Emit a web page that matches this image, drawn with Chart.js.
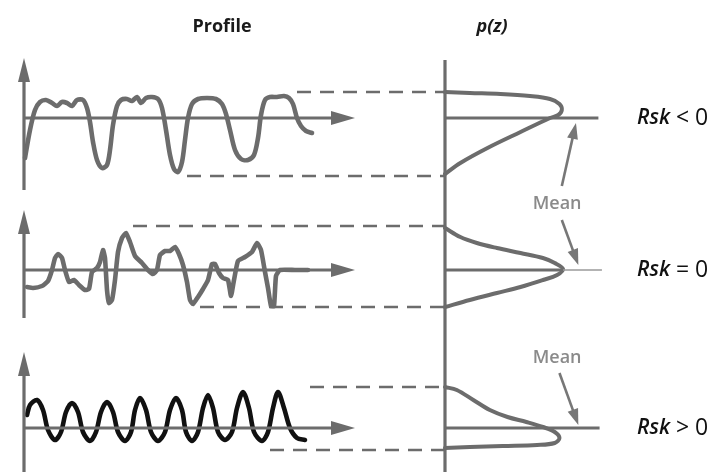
<!DOCTYPE html>
<html>
<head>
<meta charset="utf-8">
<script src="https://cdn.jsdelivr.net/npm/chart.js@4.4.1/dist/chart.umd.min.js"></script>
<style>
  html, body { margin: 0; padding: 0; background: #ffffff; }
  #wrap { position: relative; width: 722px; height: 472px; }
  canvas { display: block; }
</style>
</head>
<body>
<div id="wrap"><canvas id="skew" width="722" height="472"></canvas></div>
<script>
// ---- Surface profiles: distance along the trace (d) and height about the mean line (z) ----
const negProfileD = [0.2,0.7,1.2,1.7,2.3,2.9,3.4,3.9,4.4,4.9,5.4,6.0,6.4,6.7,7.0,7.4,7.9,8.4,8.7,9.0,
  9.4,9.8,10.4,10.9,11.4,11.8,12.3,12.9,13.5,13.9,14.3,14.7,15.1,15.5,15.9,16.2,16.5,16.9,17.5,18.4,
  19.3,19.9,20.3,20.7,21.2,21.8,22.5,23.1,23.5,23.8,24.2,24.7,25.4,26.1,26.6,27.0,27.4,27.8,28.3,28.9];
const negProfileZ = [-4.0,-1.2,0.8,1.6,1.8,1.5,1.2,1.6,1.5,1.2,1.8,1.8,1.0,-0.4,-2.4,-4.2,-5.0,-4.7,-3.2,-0.7,
  1.2,1.8,1.9,1.7,2.1,1.5,2.0,2.1,1.9,1.0,-1.2,-3.7,-5.1,-5.4,-4.4,-2.2,0,1.4,1.9,2.0,
  1.9,1.4,0.4,-1.2,-3.2,-4.1,-4.2,-3.7,-2.0,0.3,1.8,2.1,2.1,2.2,2.0,1.4,0,-0.8,-1.3,-1.5];

const zeroProfileD = [0.4,1.0,1.9,2.5,2.9,3.2,3.5,3.9,4.2,4.6,5.1,5.6,6.2,6.6,6.9,7.4,7.7,8.0,8.2,8.4,
  8.6,8.9,9.2,9.5,9.9,10.3,10.7,11.2,11.9,12.5,13.0,13.4,13.7,14.2,14.7,15.2,15.6,16.0,16.4,16.7,
  17.0,17.5,18.0,18.5,18.9,19.2,19.6,20.0,20.5,20.8,21.1,21.5,22.2,22.9,23.4,23.8,24.2,24.5,24.8,25.1,
  25.3,25.7,27.2,28.5];
const zeroProfileZ = [-1.7,-1.8,-1.6,-1.1,0,1.2,1.6,1.2,0,-1.2,-1.0,-1.5,-2.0,-1.9,-0.2,0.2,0.8,2.0,1.2,-2.0,
  -3.3,-3.0,-1.0,1.8,3.2,3.7,2.8,1.4,0.7,0,-0.4,0,1.5,1.9,1.9,2.3,1.6,0.5,-1.2,-3.0,
  -3.4,-2.7,-1.9,-1.0,0.6,0.6,-0.3,-0.8,-1.0,-2.6,-1.0,0.9,1.3,1.8,2.7,2.0,-0.2,-1.8,-3.6,-3.6,
  -0.6,0,0,0];

const posProfileD = [0.4,0.7,1.4,2.0,2.5,3.2,3.8,4.3,4.9,5.5,6.0,6.7,7.3,7.8,8.4,9.0,9.5,10.2,10.8,11.2,
  11.7,12.3,12.8,13.5,14.2,14.7,15.3,15.9,16.3,16.9,17.5,18.0,18.5,19.0,19.5,20.2,20.9,21.4,22.0,22.6,
  23.1,23.9,24.5,25.0,25.5,26.1,26.7,27.4,28.2];
const posProfileZ = [1.3,2.3,2.8,1.8,-0.2,-1.2,-0.4,1.6,2.5,1.6,-0.4,-1.3,-0.4,1.6,2.6,1.6,-0.4,-1.3,-0.4,1.8,
  3.0,1.8,-0.4,-1.3,-0.4,1.8,3.0,1.8,-0.4,-1.3,-0.4,2.0,3.3,2.0,-0.4,-1.2,-0.4,2.0,3.6,2.0,
  -0.4,-1.3,-0.4,2.0,3.6,2.0,0,-1.0,-1.2];

// ---- Amplitude distributions p(z): density (p) against height (z) ----
const negDensityP = [0,0.21,0.47,0.72,0.89,0.97,0.99,0.96,0.89,0.64,0.36,0.13,0];
const negDensityZ = [2.6,2.5,2.4,2.2,1.9,1.4,0.8,0.3,0,-1.4,-3.0,-4.5,-5.6];

const zeroDensityP = [0,0.13,0.27,0.44,0.64,0.83,0.93,1.0,0.95,0.83,0.64,0.44,0.21,0];
const zeroDensityZ = [4.2,3.3,2.7,2.2,1.7,1.2,0.7,0.1,-0.5,-1.0,-1.7,-2.3,-3.0,-3.7];

const posDensityP = [0,0.10,0.24,0.38,0.53,0.69,0.83,0.93,0.97,0.93,0.78,0.49,0.21,0];
const posDensityZ = [4.1,3.8,2.8,1.8,1.1,0.6,0.1,-0.4,-1.0,-1.5,-1.7,-1.8,-1.9,-2.0];

// ---- Extreme levels (upper, lower) and where their dashed guides start along d ----
const guideLevels = [[2.6, -5.8], [4.4, -3.7], [4.1, -2.2]];
const guideStarts = [[27.4, 16.4], [11.0, 17.7], [28.7, 24.7]];

// ---- Labels ----
const columnTitles = ['Profile', 'p(z)'];
const skewLabels = ['< 0', '= 0', '> 0'];
const meanLabel = 'Mean';

// ---- Layout ----
const W = 722, H = 472;
const UNIT_PX = 10;            // pixels per unit of d and z
const PROFILE_ORIGIN_X = 23;   // profile axes
const DENSITY_ORIGIN_X = 445;  // p(z) axis
const DENSITY_PX = 118;        // width of p = 1
const ROW_BASE_Y = [118, 270, 428];
const GREY = '#6c6c6c';
const INK = '#111111';

const rowIds = ['z1', 'z2', 'z3'];
const profiles = [[negProfileD, negProfileZ], [zeroProfileD, zeroProfileZ], [posProfileD, posProfileZ]];
const densities = [[negDensityP, negDensityZ], [zeroDensityP, zeroDensityZ], [posDensityP, posDensityZ]];
const profileColors = [GREY, GREY, INK];

const pairs = (xs, ys) => xs.map((x, i) => ({ x: x, y: ys[i] }));

const datasets = [];
profiles.forEach(([d, z], i) => {
  datasets.push({
    data: pairs(d, z), xAxisID: 'xp', yAxisID: rowIds[i],
    borderColor: profileColors[i], borderWidth: 4.6, tension: i === 1 ? 0.15 : 0.3,
    borderJoinStyle: 'round', borderCapStyle: 'round'
  });
});
densities.forEach(([p, z], i) => {
  datasets.push({
    data: pairs(p, z), xAxisID: 'xd', yAxisID: rowIds[i],
    borderColor: GREY, borderWidth: 4, tension: 0.35,
    borderJoinStyle: 'round', borderCapStyle: 'round'
  });
});

const scales = {
  xp: { type: 'linear', display: false, min: -PROFILE_ORIGIN_X / UNIT_PX, max: (W - PROFILE_ORIGIN_X) / UNIT_PX },
  xd: { type: 'linear', display: false, min: -DENSITY_ORIGIN_X / DENSITY_PX, max: (W - DENSITY_ORIGIN_X) / DENSITY_PX }
};
ROW_BASE_Y.forEach((base, i) => {
  scales[rowIds[i]] = { type: 'linear', display: false, min: -(H - base) / UNIT_PX, max: base / UNIT_PX };
});

// Axis extents for each row's profile axis (z top, z bottom)
const profileAxisSpan = [[6.0, -7.2], [6.0, -4.8], [7.6, -4.4]];
const PROFILE_AXIS_END = 33.2;   // d where the mean-line arrow ends
const MEAN_LINE_END = [1.30, 1.33, 1.31];

function arrow(ctx, x1, y1, x2, y2, len, half, width, color) {
  const a = Math.atan2(y2 - y1, x2 - x1);
  ctx.save();
  ctx.strokeStyle = color; ctx.fillStyle = color; ctx.lineWidth = width;
  ctx.beginPath();
  ctx.moveTo(x1, y1);
  ctx.lineTo(x2 - (len - 2) * Math.cos(a), y2 - (len - 2) * Math.sin(a));
  ctx.stroke();
  ctx.beginPath();
  ctx.moveTo(x2, y2);
  ctx.lineTo(x2 - len * Math.cos(a) + half * Math.sin(a), y2 - len * Math.sin(a) - half * Math.cos(a));
  ctx.lineTo(x2 - len * Math.cos(a) - half * Math.sin(a), y2 - len * Math.sin(a) + half * Math.cos(a));
  ctx.closePath();
  ctx.fill();
  ctx.restore();
}

function line(ctx, x1, y1, x2, y2, width, color, dash) {
  ctx.save();
  ctx.strokeStyle = color; ctx.lineWidth = width;
  ctx.setLineDash(dash || []);
  ctx.beginPath(); ctx.moveTo(x1, y1); ctx.lineTo(x2, y2); ctx.stroke();
  ctx.restore();
}

const diagramFrame = {
  id: 'diagramFrame',
  afterDatasetsDraw(chart) {
    const ctx = chart.ctx;
    const xp = chart.scales.xp, xd = chart.scales.xd;
    const x0 = xd.getPixelForValue(0);

    rowIds.forEach((id, i) => {
      const ys = chart.scales[id];
      const ax = xp.getPixelForValue(0.1);
      // profile z-axis with arrow
      arrow(ctx, ax, ys.getPixelForValue(profileAxisSpan[i][1]), ax, ys.getPixelForValue(profileAxisSpan[i][0]), 24, 6, 3.2, GREY);
      // mean line with arrow
      const ym = ys.getPixelForValue(0);
      arrow(ctx, xp.getPixelForValue(0), ym, xp.getPixelForValue(PROFILE_AXIS_END), ym, 24, 7, 3.2, GREY);
      // dashed guides to the p(z) axis
      guideLevels[i].forEach((lvl, k) => {
        const y = ys.getPixelForValue(lvl);
        line(ctx, xp.getPixelForValue(guideStarts[i][k]), y, x0, y, 2.6, GREY, [14, 9]);
      });
      // mean line through the distribution
      if (i === 1) {
        line(ctx, x0, ym, xd.getPixelForValue(1.0), ym, 3.2, GREY);
        line(ctx, xd.getPixelForValue(1.0), ym, xd.getPixelForValue(MEAN_LINE_END[i]), ym, 1.5, '#9a9a9a');
      } else {
        line(ctx, x0, ym, xd.getPixelForValue(MEAN_LINE_END[i]), ym, 3.2, GREY);
      }
      // skewness label
      ctx.save();
      ctx.fillStyle = INK;
      ctx.textBaseline = 'middle';
      ctx.font = 'italic 600 21px "Open Sans"';
      const rx = 637;
      ctx.fillText('Rsk', rx, ym);
      const w = ctx.measureText('Rsk').width;
      ctx.font = '400 23px "Open Sans"';
      ctx.fillText(' ' + skewLabels[i], rx + w, ym);
      ctx.restore();
    });

    // p(z) axis
    const y1 = chart.scales.z1;
    line(ctx, x0, y1.getPixelForValue(5.8), x0, chart.chartArea.bottom, 3.2, GREY);

    // "Mean" callouts
    const z1 = chart.scales.z1, z2 = chart.scales.z2, z3 = chart.scales.z3;
    ctx.save();
    ctx.fillStyle = '#8a8a8a';
    ctx.font = '600 18px "Open Sans"';
    ctx.textAlign = 'center';
    ctx.textBaseline = 'middle';
    ctx.fillText(meanLabel, xd.getPixelForValue(0.95), z1.getPixelForValue(-8.6));
    ctx.fillText(meanLabel, xd.getPixelForValue(0.95), z3.getPixelForValue(7.0));
    ctx.restore();
    arrow(ctx, xd.getPixelForValue(0.99), z1.getPixelForValue(-6.8), xd.getPixelForValue(1.11), z1.getPixelForValue(-0.5), 16, 5.5, 2.6, '#777777');
    arrow(ctx, xd.getPixelForValue(0.99), z2.getPixelForValue(5.0), xd.getPixelForValue(1.13), z2.getPixelForValue(0.5), 16, 5.5, 2.6, '#777777');
    arrow(ctx, xd.getPixelForValue(0.97), z3.getPixelForValue(5.5), xd.getPixelForValue(1.13), z3.getPixelForValue(0.3), 16, 5.5, 2.6, '#777777');

    // column titles
    ctx.save();
    ctx.fillStyle = '#1a1a1a';
    ctx.textAlign = 'center';
    ctx.textBaseline = 'middle';
    ctx.font = '700 18px "Open Sans"';
    ctx.fillText(columnTitles[0], 222, 27);
    ctx.font = 'italic 700 18px "Open Sans"';
    ctx.fillText(columnTitles[1], 492, 27);
    ctx.restore();
  }
};

new Chart(document.getElementById('skew'), {
  type: 'scatter',
  data: { datasets: datasets.map(ds => Object.assign({ showLine: true, pointRadius: 0, fill: false }, ds)) },
  options: {
    responsive: false,
    animation: false,
    devicePixelRatio: 1,
    events: [],
    layout: { padding: 0 },
    plugins: { legend: { display: false }, tooltip: { enabled: false }, title: { display: false } },
    scales: scales
  },
  plugins: [diagramFrame]
});
</script>
</body>
</html>
